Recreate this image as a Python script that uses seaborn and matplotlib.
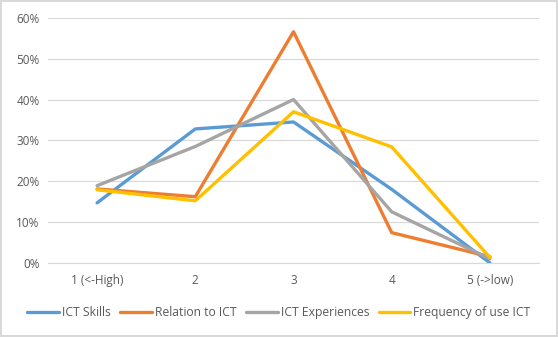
import pandas as pd
import matplotlib.pyplot as plt
import seaborn as sns
from matplotlib.ticker import PercentFormatter

categories = ["1 (<-High)", "2", "3", "4", "5 (->low)"]
ict_skills = [0.147, 0.328, 0.345, 0.180, 0.0]
relation_to_ict = [0.181, 0.162, 0.566, 0.074, 0.015]
ict_experiences = [0.189, 0.285, 0.400, 0.125, 0.010]
frequency_of_use = [0.179, 0.152, 0.370, 0.284, 0.013]

series_names = ["ICT Skills", "Relation to ICT", "ICT Experiences", "Frequency of use ICT"]
colors = ["#5B9BD5", "#ED7D31", "#A5A5A5", "#FFC000"]

if __name__ == "__main__":
    # long format
    df = pd.DataFrame({"Level": categories, "ICT Skills": ict_skills,
                       "Relation to ICT": relation_to_ict,
                       "ICT Experiences": ict_experiences,
                       "Frequency of use ICT": frequency_of_use})
    df = df.melt(id_vars="Level", var_name="Series", value_name="Share")

    sns.set_style("white")
    plt.rcParams["font.family"] = ["Open Sans", "DejaVu Sans"]

    fig = plt.figure(figsize=(5.58, 3.37), dpi=100)
    fig.patch.set_edgecolor("#d9d9d9")
    fig.patch.set_linewidth(1.5)
    ax = fig.add_axes([0.086, 0.22, 0.88, 0.727])

    sns.lineplot(data=df, x="Level", y="Share", hue="Series", hue_order=series_names,
                 palette=colors, linewidth=2.4, sort=False, ax=ax)

    ax.set_ylim(0, 0.6)
    ax.set_xlim(-0.5, 4.5)
    ax.yaxis.set_major_formatter(PercentFormatter(1.0, decimals=0))
    ax.set_yticks([0, 0.1, 0.2, 0.3, 0.4, 0.5, 0.6])
    ax.grid(axis="y", color="#d9d9d9", linewidth=0.9)
    ax.set_axisbelow(True)
    for s in ["top", "right", "left"]:
        ax.spines[s].set_visible(False)
    ax.spines["bottom"].set_color("#d9d9d9")
    ax.tick_params(axis="both", length=0, labelsize=8.5, colors="#595959", pad=8)
    ax.tick_params(axis="y", pad=6)
    ax.set_xlabel("")
    ax.set_ylabel("")

    ax.legend_.remove()
    handles, labels = ax.get_legend_handles_labels()
    fig.legend(handles, labels, loc="center", bbox_to_anchor=(0.5, 0.072), ncol=4,
               frameon=False, fontsize=8.7, labelcolor="#595959", handlelength=2.6,
               handletextpad=0.25, columnspacing=0.8)

    fig.savefig("out.png", dpi=100)
